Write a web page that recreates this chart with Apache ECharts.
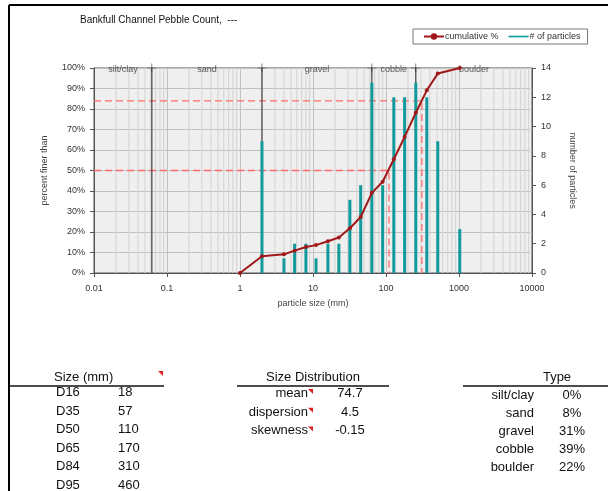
<!DOCTYPE html>
<html>
<head>
<meta charset="utf-8">
<script src="https://cdn.jsdelivr.net/npm/echarts@6/dist/echarts.min.js"></script>
<style>
  html, body { margin: 0; padding: 0; background: #fff; }
  #box { width: 608px; height: 491px; }
</style>
</head>
<body>
<div id="box"></div>
<script>
// particle counts per size class (mm)
const sizes = [2, 4, 5.6, 8, 11, 16, 22.6, 32, 45, 64, 90, 128, 180, 256, 362, 512, 1024];
const counts = [9, 1, 2, 2, 1, 2, 2, 5, 6, 13, 6, 12, 12, 13, 12, 9, 3];
// cumulative % finer than
const cumSizes = [1, 2, 4, 5.6, 8, 11, 16, 22.6, 32, 45, 64, 90, 128, 180, 256, 362, 512, 1024];
const cumPct = [0, 8.2, 9.1, 10.9, 12.7, 13.6, 15.5, 17.3, 21.8, 27.3, 39.1, 44.5, 55.5, 66.4, 78.2, 89.1, 97.3, 100];
// class boundaries and names
const bounds = [0.062, 2, 64, 256];
const zones = ['silt/clay', 'sand', 'gravel', 'cobble', 'boulder'];
// table
const dNames = ['D16', 'D35', 'D50', 'D65', 'D84', 'D95'];
const dValues = [18, 57, 110, 170, 310, 460];
const statNames = ['mean', 'dispersion', 'skewness'];
const statValues = ['74.7', '4.5', '-0.15'];
const typePct = ['0%', '8%', '31%', '39%', '22%'];
// guide lines (D50, D84)
const guidePct = [50, 84];
const guideSize = [110, 310];

const xMin = 0.01, xMax = 10000;
const FONT = '"Liberation Sans", Arial, sans-serif';

// minor grid positions 2..9 per decade
const minorX = [];
for (let k = -2; k < 4; k++) {
  for (let m = 2; m <= 9; m++) minorX.push(m * Math.pow(10, k));
}

// zone labels sit at the log-centre of each zone
const edges = [xMin].concat(bounds, [xMax]);
const zoneLabels = zones.map((z, i) => ({
  value: [Math.sqrt(edges[i] * edges[i + 1]), 100],
  name: z
}));

const guideSeries = guidePct.map((p, i) => ({
  type: 'line',
  data: [[xMin, p], [guideSize[i], p], [guideSize[i], 0]],
  symbol: 'none',
  silent: true,
  lineStyle: { color: '#ff6a6a', width: 1.3, type: [7, 4] },
  z: 3
}));

const boundSeries = bounds.map(b => ({
  type: 'line',
  data: [[b, 0], [b, 100]],
  symbol: 'none',
  silent: true,
  lineStyle: { color: '#333', width: 1.1 },
  z: 3
}));

var myChart = echarts.init(document.getElementById('box'));

const texts = [];
function txt(x, y, s, align, size) {
  texts.push({
    type: 'text', x: x, y: y, silent: true,
    style: { text: s, fill: '#111', font: (size || 13) + 'px ' + FONT, align: align || 'left', verticalAlign: 'middle' }
  });
}
function hline(x1, x2, y, w) {
  texts.push({ type: 'line', silent: true, shape: { x1: x1, y1: y, x2: x2, y2: y }, style: { stroke: '#111', lineWidth: w || 1.3 } });
}
function tri(x, y) {
  texts.push({ type: 'polygon', silent: true, shape: { points: [[x - 5, y], [x, y], [x, y + 5]] }, style: { fill: '#e02020' } });
}

// frame
texts.push({ type: 'line', silent: true, shape: { x1: 9, y1: 5, x2: 608, y2: 5 }, style: { stroke: '#000', lineWidth: 2 } });
texts.push({ type: 'line', silent: true, shape: { x1: 9, y1: 5, x2: 9, y2: 491 }, style: { stroke: '#000', lineWidth: 2 } });
// title
txt(80, 20, 'Bankfull Channel Pebble Count,  ---', 'left', 10);

// size table
txt(54, 377, 'Size (mm)');
hline(10, 164, 386);
tri(163, 371);
dNames.forEach((d, i) => {
  txt(56, 392.5 + i * 18.6, d);
  txt(118, 392.5 + i * 18.6, String(dValues[i]));
});
// distribution
txt(313, 377, 'Size Distribution', 'center');
hline(237, 389, 386);
statNames.forEach((s, i) => {
  txt(308, 393.5 + i * 18.7, s, 'right');
  tri(313, 389 + i * 18.7);
  txt(350, 393.5 + i * 18.7, statValues[i], 'center');
});
// type
txt(557, 377, 'Type', 'center');
hline(463, 608, 386);
zones.forEach((z, i) => {
  txt(534, 395 + i * 18.1, z, 'right');
  txt(572, 395 + i * 18.1, typePct[i], 'center');
});

var option = {
  animation: false,
  textStyle: { fontFamily: FONT },
  grid: {
    left: 94, right: 76, top: 68, bottom: 218,
    show: true, backgroundColor: '#efefef', borderColor: '#555', borderWidth: 1
  },
  legend: {
    left: 413, top: 29,
    padding: [3, 7, 3, 10],
    itemGap: 10,
    itemWidth: 20, itemHeight: 8,
    borderColor: '#777', borderWidth: 1,
    textStyle: { fontSize: 9, color: '#333', padding: [0, 0, 0, -4] },
    data: [
      { name: 'cumulative %' },
      { name: '# of particles', icon: 'path://M0,0H20V1.6H0Z' }
    ]
  },
  xAxis: {
    type: 'log', logBase: 10, min: xMin, max: xMax,
    name: 'particle size (mm)', nameLocation: 'middle', nameGap: 26,
    nameTextStyle: { fontSize: 9, color: '#444' },
    axisLine: { lineStyle: { color: '#555' } },
    axisTick: { length: 4, lineStyle: { color: '#555' } },
    axisLabel: { fontSize: 9, color: '#333', margin: 11, formatter: v => String(v) },
    splitLine: { show: true, lineStyle: { color: '#c2c2c2' } }
  },
  yAxis: [
    {
      type: 'value', min: 0, max: 100, interval: 10,
      name: 'percent finer than', nameLocation: 'middle', nameGap: 45,
      nameTextStyle: { fontSize: 9, color: '#444' },
      axisLine: { show: true, lineStyle: { color: '#555' } },
      axisTick: { show: true, length: 4, lineStyle: { color: '#555' } },
      axisLabel: { fontSize: 9, color: '#333', margin: 9, formatter: '{value}%' },
      splitLine: { show: true, lineStyle: { color: '#c2c2c2' } }
    },
    {
      type: 'value', min: 0, max: 14, interval: 2, position: 'right',
      name: 'number of particles', nameLocation: 'middle', nameGap: 36, nameRotate: -90,
      nameTextStyle: { fontSize: 9, color: '#444' },
      axisLine: { show: true, lineStyle: { color: '#555' } },
      axisTick: { show: true, length: 4, lineStyle: { color: '#555' } },
      axisLabel: { fontSize: 9, color: '#333', margin: 9 },
      splitLine: { show: false }
    }
  ],
  series: [
    {
      type: 'custom',
      name: 'minor',
      silent: true,
      data: minorX,
      encode: { x: 0 },
      z: 1,
      renderItem: function (params, api) {
        const a = api.coord([api.value(0), 0]);
        const b = api.coord([api.value(0), 100]);
        return { type: 'line', shape: { x1: a[0], y1: a[1], x2: b[0], y2: b[1] }, style: { stroke: '#d2d2d2', lineWidth: 1 } };
      }
    },
    {
      type: 'custom',
      name: '# of particles',
      yAxisIndex: 1,
      data: sizes.map((s, i) => [s, counts[i]]),
      encode: { x: 0, y: 1 },
      itemStyle: { color: '#12999b' },
      z: 4,
      renderItem: function (params, api) {
        const top = api.coord([api.value(0), api.value(1)]);
        const base = api.coord([api.value(0), 0]);
        return {
          type: 'rect',
          shape: { x: top[0] - 1.5, y: top[1], width: 3, height: base[1] - top[1] },
          style: { fill: '#12999b' }
        };
      }
    },
    ...guideSeries,
    ...boundSeries,
    {
      type: 'scatter',
      silent: true,
      data: bounds.map(b => [b, 100]),
      symbol: 'path://M4.6,0H5.4V4.6H10V5.4H5.4V10H4.6V5.4H0V4.6H4.6Z',
      symbolSize: 9,
      itemStyle: { color: '#222' },
      z: 6
    },
    {
      type: 'scatter',
      silent: true,
      data: zoneLabels,
      symbolSize: 0,
      z: 6,
      label: {
        show: true, position: 'inside', offset: [0, 2],
        formatter: p => p.name, fontSize: 9, color: '#333'
      }
    },
    {
      type: 'line',
      name: 'cumulative %',
      data: cumSizes.map((s, i) => [s, cumPct[i]]),
      symbol: 'circle', symbolSize: 4,
      itemStyle: { color: '#a01818' },
      lineStyle: { color: '#a01818', width: 2 },
      z: 7
    }
  ],
  graphic: texts
};

myChart.setOption(option);
</script>
</body>
</html>
